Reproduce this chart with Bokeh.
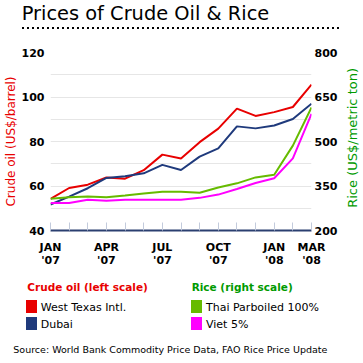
from bokeh.plotting import figure
from bokeh.layouts import column, row
from bokeh.models import LinearAxis, Range1d, FixedTicker, Div
from bokeh.embed import file_html
from bokeh.resources import INLINE

# ---------------- data ----------------
months = list(range(15))  # Jan 2007 .. Mar 2008
month_labels = {0: "JAN", 3: "APR", 6: "JUL", 9: "OCT", 12: "JAN", 14: "MAR"}
year_labels = {0: "'07", 3: "'07", 6: "'07", 9: "'07", 12: "'08", 14: "'08"}
wti = [54.2, 59.1, 60.6, 63.8, 63.3, 67.1, 74.1, 72.4, 79.7, 85.8, 94.8, 91.5, 93.2, 95.5, 105.6]
dubai = [51.7, 55.2, 59.0, 63.6, 64.4, 65.7, 69.5, 67.2, 73.2, 76.9, 86.8, 85.9, 87.2, 90.1, 97.0]
thai = [307, 312, 315, 312, 318, 325, 331, 331, 327, 345, 359, 379, 388, 486, 615]
viet = [293, 293, 304, 300, 304, 304, 304, 304, 310, 321, 340, 360, 376, 443, 593]
oil_ticks = [40, 60, 80, 100, 120]
rice_ticks = [200, 350, 500, 650, 800]
grid_ticks = [50, 60, 70, 80, 90, 100, 110, 120]

TITLE = "Prices of Crude Oil &amp; Rice"
SOURCE = "Source: World Bank Commodity Price Data, FAO Rice Price Update"
OIL_AXIS = "Crude oil (US$/barrel)"
RICE_AXIS = "Rice (US$/metric ton)"
series_names = ["West Texas Intl.", "Dubai", "Thai Parboiled 100%", "Viet 5%"]
group_names = ["Crude oil (left scale)", "Rice (right scale)"]

RED = "#e80000"
NAVY = "#1f3a7c"
GREEN = "#66bb00"
MAGENTA = "#ff00ff"
HEAD_GREEN = "#009a00"
FONT = "DejaVu Sans"
W = 363
PW = 340  # width of the chart figure; the rest holds the right axis title

# ---------------- title strip (HTML) ----------------
top_html = (
    f'<div style="position:relative;width:{W}px;height:40px;margin:0;padding:0;'
    f'font-family:\'{FONT}\';color:#000;">'
    f'<div style="position:absolute;left:21.7px;top:4.3px;font-size:19.4px;'
    f'line-height:1;white-space:nowrap;">{TITLE}</div>'
    f'<div style="position:absolute;left:22px;top:27px;width:317px;height:2px;'
    f'background-image:linear-gradient(to right,#000 2px,transparent 2px);'
    f'background-size:5px 2px;"></div>'
    f'</div>'
)
top = Div(text=top_html, width=W, height=40, margin=0, disable_math=True)

# ---------------- main chart ----------------
p = figure(width=PW, height=230, output_backend="svg", toolbar_location=None,
           x_range=Range1d(0, 14), y_range=Range1d(40, 120),
           min_border_left=50, min_border_right=28, min_border_top=12,
           min_border_bottom=40, x_axis_location=None, y_axis_location=None,
           margin=0)
p.outline_line_color = None
p.background_fill_color = "white"
p.border_fill_color = "white"
p.extra_y_ranges = {"rice": Range1d(200, 800)}

p.xgrid.visible = False
p.ygrid.ticker = FixedTicker(ticks=grid_ticks)
p.ygrid.grid_line_color = "#e6e6e6"
p.ygrid.grid_line_width = 1


def style_axis(ax):
    ax.major_label_text_font = FONT
    ax.major_label_text_font_size = "11px"
    ax.major_label_text_font_style = "bold"
    ax.major_label_text_color = "black"
    ax.minor_tick_line_color = None
    ax.minor_tick_out = 0
    ax.minor_tick_in = 0
    ax.major_tick_out = 0
    ax.axis_label_text_font = FONT
    ax.axis_label_text_font_style = "normal"


left = LinearAxis(ticker=FixedTicker(ticks=oil_ticks), axis_label=OIL_AXIS)
style_axis(left)
left.axis_line_color = None
left.major_tick_line_color = None
left.major_tick_in = 0
left.major_label_standoff = 6
left.axis_label_standoff = 1
left.axis_label_text_font_size = "12px"
left.axis_label_text_color = RED
p.add_layout(left, "left")

right = LinearAxis(y_range_name="rice", ticker=FixedTicker(ticks=rice_ticks))
style_axis(right)
right.axis_line_color = None
right.major_tick_line_color = None
right.major_tick_in = 0
right.major_label_standoff = 3
p.add_layout(right, "right")

bottom = LinearAxis(ticker=FixedTicker(ticks=months))
style_axis(bottom)
bottom.axis_line_color = "#2b3f70"
bottom.axis_line_width = 2
bottom.major_tick_in = 8
bottom.major_tick_line_color = "#c3cbdc"
bottom.major_label_overrides = {m: month_labels.get(m, "") for m in months}
bottom.major_label_standoff = 10
p.add_layout(bottom, "below")

bottom2 = LinearAxis(ticker=FixedTicker(ticks=months))
style_axis(bottom2)
bottom2.axis_line_color = None
bottom2.major_tick_line_color = None
bottom2.major_tick_in = 0
bottom2.major_label_overrides = {m: year_labels.get(m, "") for m in months}
bottom2.major_label_standoff = -3
p.add_layout(bottom2, "below")

p.line(months, wti, line_color=RED, line_width=2)
p.line(months, dubai, line_color=NAVY, line_width=2)
p.line(months, thai, line_color=GREEN, line_width=2, y_range_name="rice")
p.line(months, viet, line_color=MAGENTA, line_width=2, y_range_name="rice")

# ---------------- right axis title (HTML, reads bottom-to-top) ----------------
r_html = (
    f'<div style="position:relative;width:{W - PW}px;height:230px;margin:0;padding:0;'
    f'font-family:\'{FONT}\';">'
    f'<div style="position:absolute;left:6px;top:28px;font-size:13px;line-height:1;'
    f'white-space:nowrap;color:{HEAD_GREEN};writing-mode:vertical-rl;'
    f'transform:rotate(180deg);">{RICE_AXIS}</div>'
    f'</div>'
)
rdiv = Div(text=r_html, width=W - PW, height=230, margin=0, disable_math=True)


# ---------------- legend + source strip (HTML) ----------------
def abs_text(left, top, size, text, color="#000", weight="normal"):
    return (f'<div style="position:absolute;left:{left}px;top:{top}px;'
            f'font-size:{size}px;line-height:1;white-space:nowrap;color:{color};'
            f'font-weight:{weight};">{text}</div>')


def swatch(left, top, color):
    return (f'<div style="position:absolute;left:{left}px;top:{top}px;'
            f'width:10.7px;height:12.7px;background:{color};"></div>')


bot_html = (
    f'<div style="position:relative;width:{W}px;height:93px;margin:0;padding:0;'
    f'font-family:\'{FONT}\';color:#000;">'
    + abs_text(27.3, 11.6, 10.5, group_names[0], RED, "bold")
    + abs_text(191.7, 11.6, 10.5, group_names[1], HEAD_GREEN, "bold")
    + swatch(26, 30, RED) + abs_text(40.7, 32.2, 11, series_names[0])
    + swatch(26, 47, NAVY) + abs_text(40.7, 49.2, 11, series_names[1])
    + swatch(191, 30, GREEN) + abs_text(206, 32.2, 11, series_names[2])
    + swatch(191, 47, MAGENTA) + abs_text(206, 49.2, 11, series_names[3])
    + abs_text(13.3, 74.7, 9.5, SOURCE)
    + '</div>'
)
bot = Div(text=bot_html, width=W, height=93, margin=0, disable_math=True)

layout = column(top, row(p, rdiv, spacing=0), bot, spacing=0)
open("out.html", "w").write(file_html(layout, INLINE))
